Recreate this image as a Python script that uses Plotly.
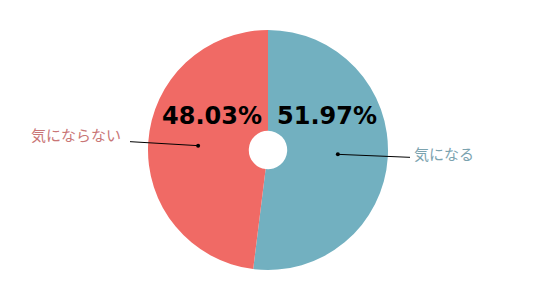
import math
import plotly.graph_objects as go

labels = ["気になる", "気にならない"]
values = [51.97, 48.03]
colors = ["#72B0C0", "#F06A65"]
label_colors = ["#7BA3AF", "#C97676"]

W, H = 540, 296
cx, cy, R = 268, 150, 120  # pixel geometry of the pie

fig = go.Figure(go.Pie(
    labels=labels, values=values, sort=False, direction="clockwise", rotation=0,
    hole=0.16, marker=dict(colors=colors, line=dict(width=0)),
    textinfo="none", hoverinfo="label+percent", showlegend=False,
    domain=dict(x=[(cx - R) / W, (cx + R) / W], y=[(H - cy - R) / H, (H - cy + R) / H]),
))

def px2paper(x, y):
    return x / W, (H - y) / H

shapes, annotations = [], []
total = sum(values)
start = 0.0
pct_pos = [(327, 116), (212, 116)]
label_pos = [(444, 153, 410), (75.5, 134, 130)]
for i, v in enumerate(values):
    frac = v / total
    mid = (start + frac / 2) * 2 * math.pi
    start += frac
    r = 70
    dx, dy = cx + r * math.sin(mid), cy - r * math.cos(mid)
    lx, ly, lend = label_pos[i]
    ex, ey = (lend, dy + 3) if i == 0 else (lend, dy - 4)
    x0, y0 = px2paper(dx, dy)
    x1, y1 = px2paper(ex, ey)
    shapes.append(dict(type="line", xref="paper", yref="paper", x0=x0, y0=y0, x1=x1, y1=y1,
                       line=dict(color="black", width=1)))
    shapes.append(dict(type="circle", xref="paper", yref="paper",
                       x0=(dx - 2) / W, x1=(dx + 2) / W, y0=(H - dy - 2) / H, y1=(H - dy + 2) / H,
                       fillcolor="black", line=dict(width=0)))
    tx, ty = px2paper(lx, ly)
    annotations.append(dict(x=tx, y=ty, xref="paper", yref="paper", text=labels[i], showarrow=False,
                            xanchor="center", yanchor="middle",
                            font=dict(family="Noto Sans CJK JP", size=15, color=label_colors[i])))
    px_, py_ = px2paper(*pct_pos[i])
    annotations.append(dict(x=px_, y=py_, xref="paper", yref="paper", text=f"<b>{v:.2f}%</b>",
                            showarrow=False, xanchor="center", yanchor="middle",
                            font=dict(family="DejaVu Sans", size=24, color="black")))

fig.update_layout(width=W, height=H, margin=dict(l=0, r=0, t=0, b=0),
                  paper_bgcolor="white", plot_bgcolor="white",
                  shapes=shapes, annotations=annotations)
fig.write_html("out.html")
